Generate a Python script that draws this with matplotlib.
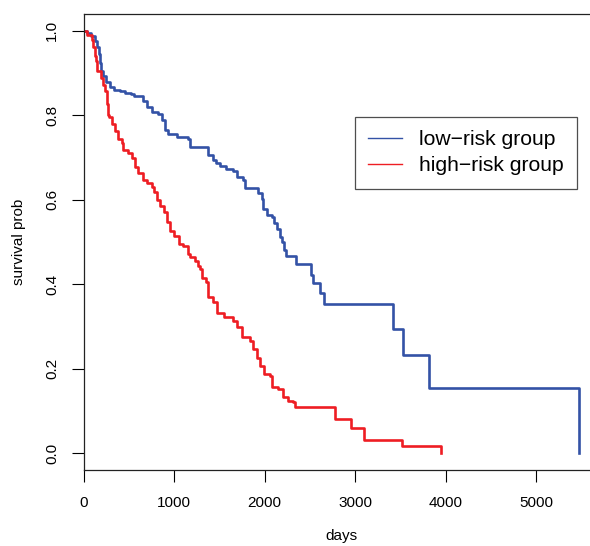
import matplotlib
matplotlib.use("Agg")
import matplotlib.pyplot as plt
from matplotlib.lines import Line2D

plt.rcParams['font.family'] = ['Liberation Sans', 'DejaVu Sans']

# Low-risk group Kaplan-Meier estimate (time in days, survival after event)
low_days = [0, 40, 80, 130, 150, 170, 185, 195, 215, 245, 290, 340, 400, 460, 520, 560,
            657, 702, 757, 823, 867, 901, 934, 1033, 1155, 1177, 1376, 1431, 1464, 1508,
            1575, 1652, 1696, 1762, 1785, 1928, 1972, 1983, 2028, 2083, 2105, 2138, 2171,
            2193, 2215, 2238, 2348, 2514, 2536, 2613, 2657, 3420, 3530, 3818, 5475]
low_surv = [1.0, 0.995, 0.987, 0.975, 0.963, 0.945, 0.925, 0.905, 0.892, 0.878, 0.868,
            0.861, 0.857, 0.854, 0.850, 0.846, 0.833, 0.819, 0.807, 0.802, 0.790, 0.766,
            0.755, 0.748, 0.743, 0.726, 0.707, 0.695, 0.688, 0.679, 0.672, 0.667, 0.653,
            0.648, 0.629, 0.617, 0.601, 0.577, 0.565, 0.560, 0.546, 0.530, 0.513, 0.499,
            0.482, 0.466, 0.447, 0.423, 0.404, 0.380, 0.352, 0.293, 0.233, 0.155, 0.0]

# High-risk group Kaplan-Meier estimate
high_days = [0, 40, 90, 110, 130, 140, 150, 190, 210, 235, 260, 270, 280, 310, 350, 380,
             420, 440, 490, 540, 570, 600, 660, 700, 760, 780, 810, 850, 890, 920, 950,
             1000, 1050, 1100, 1150, 1180, 1230, 1270, 1290, 1310, 1350, 1380, 1430, 1480,
             1550, 1650, 1700, 1750, 1840, 1870, 1920, 1950, 1990, 2060, 2080, 2150, 2200,
             2260, 2310, 2340, 2780, 2960, 3100, 3519, 3950]
high_surv = [1.0, 0.99, 0.979, 0.961, 0.94, 0.928, 0.904, 0.889, 0.873, 0.857, 0.826,
             0.80, 0.795, 0.780, 0.763, 0.743, 0.734, 0.719, 0.710, 0.700, 0.678, 0.664,
             0.648, 0.640, 0.631, 0.618, 0.600, 0.585, 0.571, 0.547, 0.526, 0.514, 0.496,
             0.491, 0.472, 0.464, 0.455, 0.444, 0.436, 0.415, 0.405, 0.370, 0.358, 0.333,
             0.322, 0.313, 0.299, 0.275, 0.265, 0.246, 0.225, 0.206, 0.187, 0.182, 0.156,
             0.152, 0.133, 0.123, 0.120, 0.109, 0.081, 0.060, 0.032, 0.016, 0.0]

group_labels = ["low\u2212risk group", "high\u2212risk group"]
group_colors = ["#3352A6", "#EE1D23"]

x_ticks = [0, 1000, 2000, 3000, 4000, 5000]
y_ticks = [0.0, 0.2, 0.4, 0.6, 0.8, 1.0]

W, H = 590, 546
fig = plt.figure(figsize=(W / 100, H / 100), dpi=100)
left, right, top, bottom = 83.5, 599, 14, 470
ax = fig.add_axes([left / W, 1 - bottom / H, (right - left) / W, (bottom - top) / H])

ax.step(low_days, low_surv, where='post', color=group_colors[0], lw=1.9)
ax.step(high_days, high_surv, where='post', color=group_colors[1], lw=1.9)

ax.set_xlim(0, 5475 * 1.04)
ax.set_ylim(-0.04, 1.04)
ax.set_xticks(x_ticks)
ax.set_xticklabels([str(t) for t in x_ticks])
ax.set_yticks(y_ticks)
ax.set_yticklabels([f"{t:.1f}" for t in y_ticks], rotation=90, va='center')
ax.tick_params(axis='both', direction='out', length=8.5, width=0.8, labelsize=11,
               colors='black')
ax.tick_params(axis='x', pad=10)
ax.tick_params(axis='y', pad=9)
for s in ax.spines.values():
    s.set_linewidth(0.9)
    s.set_color('#222222')

ax.set_xlabel("days", fontsize=11, labelpad=14)
ax.set_ylabel("survival prob", fontsize=11, labelpad=14)

handles = [Line2D([], [], color=c, lw=1.0) for c in group_colors]
leg = ax.legend(handles, group_labels, loc='upper left',
                bbox_to_anchor=(355 / W, 1 - 117 / H), bbox_transform=fig.transFigure,
                borderaxespad=0, fontsize=15.2, frameon=True, fancybox=False,
                handlelength=1.6, handletextpad=0.8, borderpad=0.62, labelspacing=0.35)
leg.get_frame().set_edgecolor('#222222')
leg.get_frame().set_linewidth(0.9)

fig.savefig("out.png", dpi=100)
